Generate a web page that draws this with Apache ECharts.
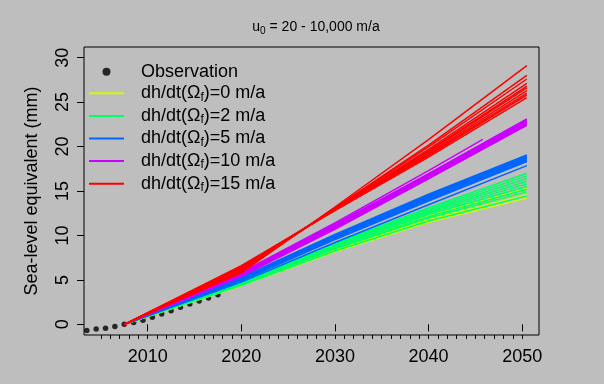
<!DOCTYPE html>
<html>
<head>
<meta charset="utf-8">
<script src="https://cdn.jsdelivr.net/npm/echarts@6/dist/echarts.min.js"></script>
<style>
html,body{margin:0;padding:0;background:#bebebe;}
#chart{width:604px;height:384px;}
</style>
</head>
<body>
<div id="chart"></div>
<script>
// ---- data ----
const modelYears = [2007.5, 2020, 2030, 2040, 2050.5];
const shortYears = [2007.5, 2020, 2030, 2040, 2045.8];

const obsYears = [2003.5, 2004.5, 2005.5, 2006.5, 2007.5, 2008.5, 2009.5, 2010.5, 2011.5, 2012.5, 2013.5, 2014.5, 2015.5, 2016.5, 2017.5];
const obsValues = [-0.68, -0.53, -0.43, -0.25, 0, 0.22, 0.47, 0.79, 1.16, 1.53, 1.91, 2.28, 2.62, 2.96, 3.33];

const lines0 = [
  [0, 4.6, 8.65, 12.23, 15.3],
  [0, 4.5, 8.4, 11.89, 14.9],
  [0, 4.45, 8.3, 11.73, 14.55],
  [0, 4.35, 8.15, 11.48, 14.2]
];
const lines2 = [
  [0, 4.85, 9.1, 13.11, 17.0],
  [0, 4.8, 9.0, 12.96, 16.7],
  [0, 4.75, 8.95, 12.81, 16.4],
  [0, 4.7, 8.9, 12.66, 16.1],
  [0, 4.7, 8.8, 12.51, 15.8],
  [0, 4.65, 8.7, 12.36, 15.5],
  [0, 4.55, 8.55, 12.12, 15.2],
  [0, 4.5, 8.5, 11.97, 14.9],
  [0, 4.4, 8.25, 11.62, 14.45]
];
const lines5 = [
  [0, 5.3, 10.1, 14.65, 19.05],
  [0, 5.25, 10.0, 14.55, 18.95],
  [0, 5.2, 9.95, 14.45, 18.85],
  [0, 5.15, 9.9, 14.35, 18.75],
  [0, 5.1, 9.8, 14.25, 18.65],
  [0, 5.05, 9.75, 14.15, 18.55],
  [0, 5.0, 9.7, 14.05, 18.45],
  [0, 4.95, 9.6, 13.95, 18.35],
  [0, 4.9, 9.55, 13.87, 18.3],
  [0, 4.75, 9.2, 13.45, 17.85]
];
const lines10 = [
  [0, 5.75, 11.25, 16.95, 23.1],
  [0, 5.72, 11.2, 16.88, 23.0],
  [0, 5.69, 11.15, 16.81, 22.9],
  [0, 5.66, 11.1, 16.74, 22.8],
  [0, 5.6, 11.0, 16.65, 22.7],
  [0, 5.57, 10.95, 16.58, 22.6],
  [0, 5.5, 10.85, 16.5, 22.5],
  [0, 5.47, 10.8, 16.44, 22.45],
  [0, 5.4, 10.7, 16.37, 22.4]
];
const line10Short = [0, 5.85, 11.4, 17.3, 20.8];
const lines15 = [
  [0, 5.8, 13.2, 20.78, 29.1],
  [0, 5.95, 13.1, 20.17, 28.0],
  [0, 6.0, 13.05, 19.96, 27.6],
  [0, 6.15, 13.0, 19.69, 27.1],
  [0, 6.2, 13.0, 19.52, 26.8],
  [0, 6.25, 12.95, 19.41, 26.6],
  [0, 6.35, 12.95, 19.24, 26.3],
  [0, 6.45, 12.9, 19.08, 26.0],
  [0, 6.5, 12.85, 18.98, 25.8],
  [0, 6.6, 12.8, 18.81, 25.5]
];

const xLabelTicks = [2010, 2020, 2030, 2040, 2050];
const xMinorTicks = [2005,2006,2007,2008,2009,2010,2011,2012,2013,2014,2015,2016,2017,2018,2019,2020,2021,2022,2023,2024,2025,2026,2027,2028,2029,2030,2031,2032,2033,2034,2035,2036,2037,2038,2039,2040,2041,2042,2043,2044,2045,2046,2047,2048,2049,2050];
const yLabelTicks = [0, 5, 10, 15, 20, 25, 30];

const groupNames = ['dh/dt(Ωf)=0 m/a', 'dh/dt(Ωf)=2 m/a', 'dh/dt(Ωf)=5 m/a', 'dh/dt(Ωf)=10 m/a', 'dh/dt(Ωf)=15 m/a'];
const groupRates = ['0', '2', '5', '10', '15'];

// ---- build ----
const FONT = 'Liberation Sans, Arial, Helvetica, sans-serif';
const colors = ['#CCFF00', '#00FF66', '#0066FF', '#CC00FF', '#FF0000'];
const groups = [lines0, lines2, lines5, lines10, lines15];

const series = [];
groups.forEach((g, gi) => {
  g.forEach(vals => {
    series.push({
      type: 'line', name: groupNames[gi], symbol: 'none', showSymbol: false,
      silent: true, animation: false,
      lineStyle: { color: colors[gi], width: 1.5 },
      itemStyle: { color: colors[gi] },
      data: modelYears.map((x, i) => [x, vals[i]])
    });
  });
  if (gi === 3) {
    series.push({
      type: 'line', name: groupNames[gi], symbol: 'none', showSymbol: false,
      silent: true, animation: false,
      lineStyle: { color: colors[gi], width: 1.5 },
      itemStyle: { color: colors[gi] },
      data: shortYears.map((x, i) => [x, line10Short[i]])
    });
  }
});
series.push({
  type: 'scatter', name: 'Observation', symbol: 'circle', symbolSize: 5.5,
  silent: true, animation: false,
  itemStyle: { color: '#000' },
  data: obsYears.map((x, i) => [x, obsValues[i]])
});

const LINE_ICON = 'path://M0,0H35V2H0Z';

const chart = echarts.init(document.getElementById('chart'), null, { renderer: 'canvas' });
chart.setOption({
  backgroundColor: '#bebebe',
  animation: false,
  title: {
    text: '{a|u}{s|0}{a| = 20 - 10,000 m/a}',
    left: 311, top: 13, textAlign: 'center',
    textStyle: {
      fontWeight: 'normal',
      rich: {
        a: { fontSize: 14, fontWeight: 'normal', fontFamily: FONT, color: '#000', lineHeight: 18 },
        s: { fontSize: 10, fontWeight: 'normal', fontFamily: FONT, color: '#000', lineHeight: 10, verticalAlign: 'bottom' }
      }
    }
  },
  grid: { left: 84, right: 65, top: 47, bottom: 49, show: true, borderColor: '#000', borderWidth: 1, backgroundColor: 'transparent' },
  legend: {
    orient: 'vertical', left: 89, top: 62.7, padding: 0, itemWidth: 35, itemHeight: 8, itemGap: 3.6,
    selectedMode: false,
    data: [{ name: 'Observation', icon: 'circle', itemStyle: { color: '#000' } }].concat(groupNames.map((n, i) => ({ name: n, icon: LINE_ICON, itemStyle: { color: colors[i] } }))),
    formatter: function (name) {
      if (name === 'Observation') return '{p|}{a|Observation}';
      const r = groupRates[groupNames.indexOf(name)];
      return '{p|}{a|dh/dt(Ω}{s|f}{a|)=' + r + ' m/a}';
    },
    textStyle: {
      rich: {
        p: { width: 12 },
        a: { fontSize: 18, fontFamily: FONT, color: '#000', lineHeight: 20 },
        s: { fontSize: 12, fontFamily: FONT, color: '#000', lineHeight: 12, verticalAlign: 'bottom' }
      }
    }
  },
  xAxis: [
    {
      type: 'value', min: 2003.2, max: 2051.8, position: 'bottom',
      splitLine: { show: false }, axisLine: { show: false },
      axisTick: { show: true, length: 7, customValues: xLabelTicks, lineStyle: { color: '#000', width: 1 } },
      axisLabel: { show: true, customValues: xLabelTicks, margin: 13, fontSize: 18, fontFamily: FONT, color: '#000', formatter: v => String(v) }
    },
    {
      type: 'value', min: 2003.2, max: 2051.8, position: 'bottom', gridIndex: 0,
      splitLine: { show: false }, axisLine: { show: false },
      axisTick: { show: true, length: 4, customValues: xMinorTicks, lineStyle: { color: '#000', width: 1 } },
      axisLabel: { show: false }
    }
  ],
  yAxis: {
    type: 'value', min: -1.2, max: 31.2,
    name: 'Sea-level equivalent (mm)', nameLocation: 'middle', nameGap: 43,
    nameTextStyle: { fontSize: 18, fontFamily: FONT, color: '#000' },
    splitLine: { show: false }, axisLine: { show: false },
    axisTick: { show: true, length: 7, customValues: yLabelTicks, lineStyle: { color: '#000', width: 1 } },
    axisLabel: { show: true, customValues: yLabelTicks, rotate: 90, margin: 12, fontSize: 18, fontFamily: FONT, color: '#000' }
  },
  series: series
});
</script>
</body>
</html>
